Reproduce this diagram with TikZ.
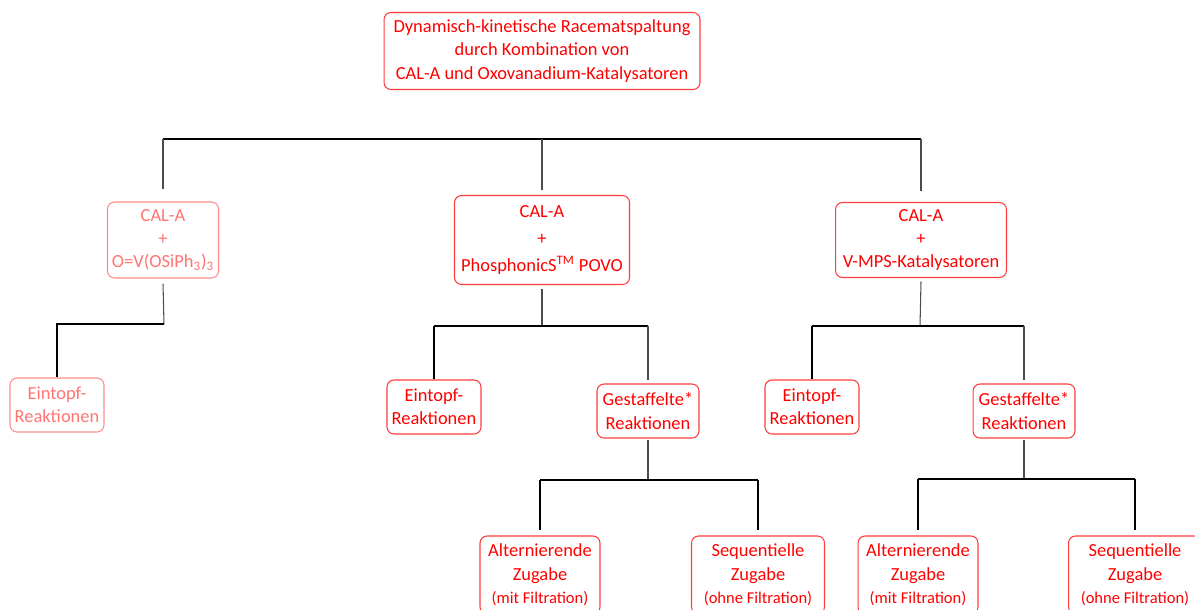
\documentclass[tikz,border=0pt]{standalone}
\usepackage{fontspec}
\setmainfont{Carlito}
\usepackage{tikz}
\usetikzlibrary{positioning}
\definecolor{kred}{RGB}{255,0,0}
\definecolor{kborder}{RGB}{255,60,60}
\definecolor{kpale}{RGB}{255,115,115}
\definecolor{kpaleborder}{RGB}{255,140,140}
\tikzstyle{box} = [draw=kborder,line width=0.6pt,text=kred,rounded corners=4pt,align=center,inner sep=2pt,font=\fontsize{10.5}{13.3}\selectfont]
\tikzstyle{palebox} = [box,draw=kpaleborder,text=kpale]
\tikzstyle{busline} = [line width=1.2pt,black]
\tikzstyle{stemline} = [line width=0.6pt,black!70]
\newcommand{\smalltxt}[1]{{\fontsize{9.4}{12}\selectfont #1}}

\begin{document}
\begin{tikzpicture}[x=0.02cm,y=-0.02cm]
\useasboundingbox (0,0) rectangle (1195,609);
\clip (0,0) rectangle (1195,609);

%Nodes
\node[box,minimum width=6.32cm,minimum height=1.54cm] (root) at (542,51) {Dynamisch-kinetische Racematspaltung\\durch Kombination von\\CAL-A und Oxovanadium-Katalysatoren};

\node[palebox,minimum width=2.22cm,minimum height=1.52cm] (cal1) at (163,240) {CAL-A\\+\\O=V(OSiPh\textsubscript{3})\textsubscript{3}};
\node[box,minimum width=3.5cm,minimum height=1.78cm] (cal2) at (542,240) {CAL-A\\[2pt]+\\[2pt]PhosphonicS\textsuperscript{TM} POVO};
\node[box,minimum width=3.42cm,minimum height=1.5cm] (cal3) at (921,240) {CAL-A\\+\\V-MPS-Katalysatoren};

\node[palebox,minimum width=1.88cm,minimum height=1.08cm] (eto1) at (57,405) {Eintopf-\\Reaktionen};
\node[box,minimum width=1.88cm,minimum height=1.08cm] (eto2) at (434,407) {Eintopf-\\Reaktionen};
\node[box,minimum width=2.04cm,minimum height=1.08cm] (gst2) at (648,411) {Gestaffelte*\\Reaktionen};
\node[box,minimum width=1.88cm,minimum height=1.08cm] (eto3) at (812,407) {Eintopf-\\Reaktionen};
\node[box,minimum width=2.04cm,minimum height=1.08cm] (gst3) at (1024,411) {Gestaffelte*\\Reaktionen};

\node[box,minimum width=2.4cm,minimum height=1.56cm] (alt2) at (540,575) {Alternierende\\Zugabe\\\smalltxt{(mit Filtration)}};
\node[box,minimum width=2.66cm,minimum height=1.56cm] (seq2) at (758,575) {Sequentielle\\Zugabe\\\smalltxt{(ohne Filtration)}};
\node[box,minimum width=2.4cm,minimum height=1.56cm] (alt3) at (918,575) {Alternierende\\Zugabe\\\smalltxt{(mit Filtration)}};
\node[box,minimum width=2.66cm,minimum height=1.56cm] (seq3) at (1135,575) {Sequentielle\\Zugabe\\\smalltxt{(ohne Filtration)}};

%Lines
\coordinate (j0) at (542,139);
\draw[busline] (cal1.north |- j0) -- (cal3.north |- j0);
\draw[stemline] (j0) -- ([yshift=3pt]cal2.north);
\draw[stemline] (cal1.north |- j0) -- ([yshift=7pt]cal1.north);
\draw[stemline] (cal3.north |- j0) -- ([yshift=6pt]cal3.north);

\coordinate (j1) at (164,324);
\draw[stemline] ([yshift=-3pt]cal1.south) -- (j1);
\draw[busline] (j1) -| (eto1.north);

\coordinate (j2) at (542,326);
\draw[stemline] ([yshift=-2pt]cal2.south) -- (j2);
\draw[busline] (eto2.north |- j2) -- (gst2.north |- j2);
\draw[busline] (eto2.north |- j2) -- (eto2.north);
\draw[stemline] (gst2.north |- j2) -- ([yshift=2pt]gst2.north);

\coordinate (j3) at (648,480);
\draw[stemline] ([yshift=-1pt]gst2.south) -- (j3);
\draw[busline] (alt2.north |- j3) -- (seq2.north |- j3);
\draw[busline] (alt2.north |- j3) -- ([yshift=3pt]alt2.north);
\draw[busline] (seq2.north |- j3) -- ([yshift=3pt]seq2.north);

\coordinate (j4) at (920,326);
\draw[stemline] ([yshift=-2pt]cal3.south) -- (j4);
\draw[busline] (eto3.north |- j4) -- (gst3.north |- j4);
\draw[busline] (eto3.north |- j4) -- (eto3.north);
\draw[stemline] (gst3.north |- j4) -- ([yshift=2pt]gst3.north);

\coordinate (j5) at (1024,479);
\draw[stemline] ([yshift=-1pt]gst3.south) -- (j5);
\draw[busline] (alt3.north |- j5) -- (seq3.north |- j5);
\draw[busline] (alt3.north |- j5) -- ([yshift=3pt]alt3.north);
\draw[busline] (seq3.north |- j5) -- ([yshift=3pt]seq3.north);
\end{tikzpicture}
\end{document}
